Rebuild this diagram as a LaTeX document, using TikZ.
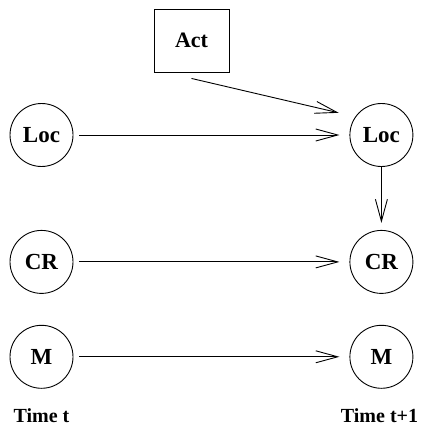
\documentclass[tikz,border=0pt]{standalone}
\usepackage{fontspec}
\setmainfont{Liberation Serif}
\usetikzlibrary{positioning,arrows.meta}

\tikzset{
  var/.style={circle, draw, line width=0.9pt, minimum size=63pt, inner sep=0pt,
    font=\fontsize{23}{26}\selectfont\bfseries},
  actbox/.style={rectangle, draw, line width=0.9pt, minimum width=75pt, minimum height=63pt,
    font=\fontsize{22}{26}\selectfont\bfseries},
  timelbl/.style={anchor=base, font=\fontsize{20}{24}\selectfont\bfseries},
  link/.style={line width=0.9pt, -{Straight Barb[length=22pt, width=12pt, line width=0.9pt]}}
}

\begin{document}
\begin{tikzpicture}[x=1pt, y=-1pt]
  \useasboundingbox (0,0) rectangle (420,425);

  % Define nodes
  \node[var]                        (loct) at (41.5,135) {Loc};
  \node[var, below=63pt of loct]    (crt)  {CR};
  \node[var, below=31pt of crt]     (mt)   {M};
  \node[var, right=276pt of loct]   (locn) {Loc};
  \node[var, right=276pt of crt]    (crn)  {CR};
  \node[var, right=276pt of mt]     (mn)   {M};
  \node[actbox]                     (act)  at (191.5,40.5) {Act};
  \coordinate[below=6pt of act.south] (actout);

  % Connect the nodes
  \draw[link, shorten <=6pt, shorten >=10pt] (loct) -- (locn);
  \draw[link, shorten <=6pt, shorten >=10pt] (crt) -- (crn);
  \draw[link, shorten <=6pt, shorten >=10pt] (mt) -- (mn);
  \draw[link, shorten >=7pt] (locn) -- (crn);
  \draw[link, shorten >=17pt] (actout) -- (locn.145);

  % Labels
  \node[timelbl] (tnow)  at (41.5,422)  {Time t};
  \node[timelbl] (tnext) at (379.5,422) {Time t+1};

\end{tikzpicture}
\end{document}
